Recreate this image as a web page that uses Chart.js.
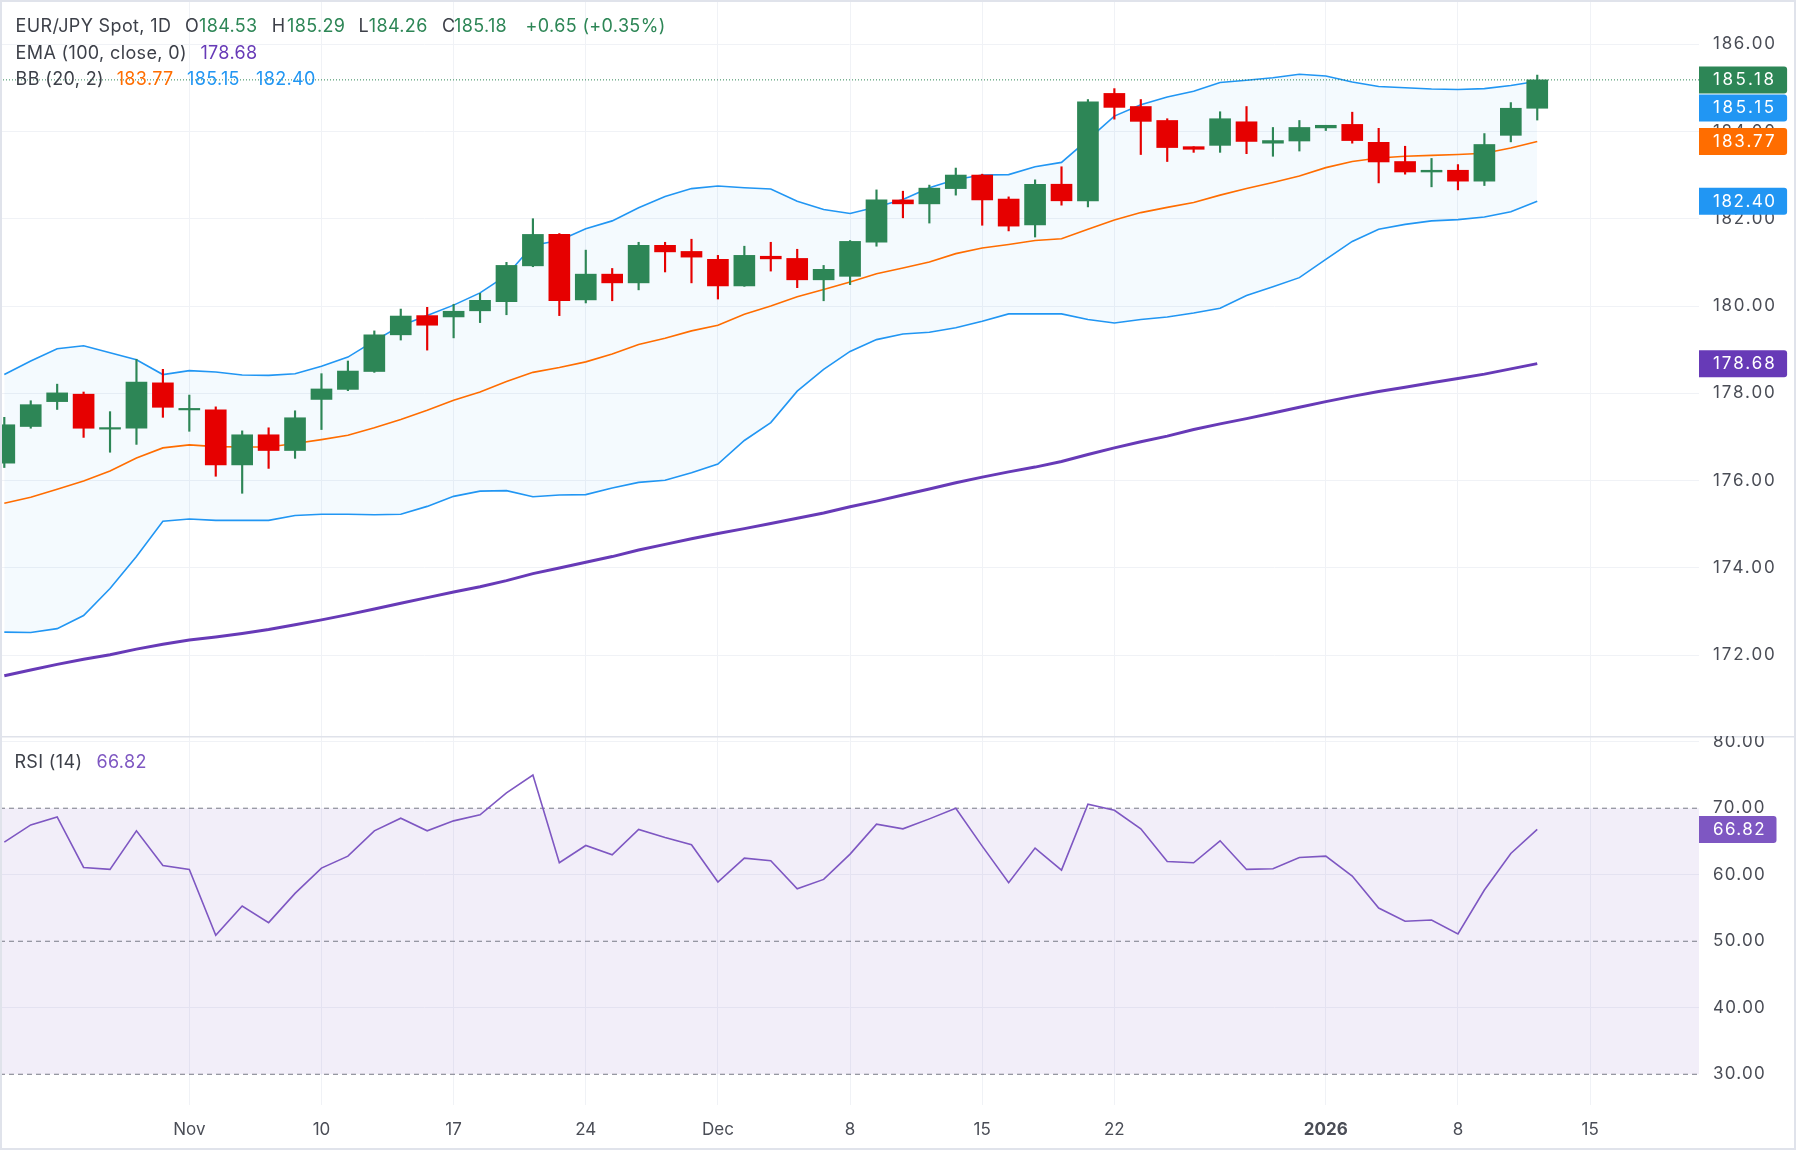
<!DOCTYPE html>
<html>
<head>
<meta charset="utf-8">
<title>EUR/JPY Spot, 1D</title>
<script src="https://cdn.jsdelivr.net/npm/chart.js@4.4.1/dist/chart.umd.min.js"></script>
<style>
	html, body { margin: 0; padding: 0; background: #fff; }
	#wrap { position: relative; width: 1796px; height: 1150px; overflow: hidden; }
	#priceChart { position: absolute; left: 0; top: 0; }
	#rsiChart { position: absolute; left: 0; top: 736px; }
	#frame { position: absolute; left: 0; top: 0; width: 1796px; height: 1150px; box-sizing: border-box; border: 2px solid #e0e3eb; pointer-events: none; }
</style>
</head>
<body>
<div id="wrap">
	<canvas id="priceChart" width="1796" height="736"></canvas>
	<canvas id="rsiChart" width="1796" height="414"></canvas>
	<div id="frame"></div>
</div>
<script>

// daily sessions 23 Oct 2025 -> 13 Jan 2026 (index 0..58)
const opens = [176.40, 177.24, 177.81, 177.98, 177.18, 177.20, 178.24, 177.62, 177.62, 176.36,
	177.05, 176.69, 177.86, 178.09, 178.50, 179.34, 179.78, 179.75, 179.89, 180.10,
	180.92, 181.64, 180.14, 180.73, 180.53, 181.39, 181.25, 181.07, 180.46, 181.14,
	181.09, 180.60, 180.68, 181.46, 182.43, 182.34, 182.69, 183.00, 182.45, 181.86,
	182.79, 182.41, 184.87, 184.57, 184.25, 183.65, 183.68, 184.22, 183.73, 183.78,
	184.08, 184.16, 183.75, 183.31, 183.07, 183.11, 182.86, 183.91, 184.53];
const highs = [177.45, 177.83, 178.21, 178.03, 177.58, 178.78, 178.55, 177.96, 177.69, 177.14,
	177.21, 177.60, 178.45, 178.74, 179.43, 179.93, 179.97, 180.04, 180.29, 181.00,
	182.00, 181.66, 181.28, 180.86, 181.46, 181.46, 181.53, 181.16, 181.37, 181.46,
	181.30, 180.93, 181.50, 182.66, 182.63, 182.77, 183.16, 183.02, 182.50, 182.89,
	183.19, 184.73, 184.98, 184.73, 184.29, 183.65, 184.45, 184.57, 184.09, 184.25,
	184.14, 184.44, 184.07, 183.66, 183.38, 183.24, 183.95, 184.66, 185.29];
const lows = [176.30, 177.20, 177.63, 176.99, 176.65, 176.83, 177.45, 177.13, 176.10, 175.71,
	176.28, 176.51, 177.17, 178.06, 178.48, 179.22, 178.99, 179.27, 179.62, 179.80,
	180.90, 179.78, 180.07, 180.12, 180.37, 180.78, 180.53, 180.16, 180.45, 180.80,
	180.42, 180.12, 180.49, 181.37, 182.02, 181.90, 182.54, 181.85, 181.72, 181.58,
	182.31, 182.27, 184.28, 183.47, 183.31, 183.52, 183.52, 183.49, 183.43, 183.55,
	184.02, 183.73, 182.82, 183.02, 182.73, 182.66, 182.76, 183.76, 184.26];
const closes = [177.28, 177.74, 178.01, 177.20, 177.20, 178.26, 177.68, 177.63, 176.36, 177.05,
	176.69, 177.44, 178.10, 178.51, 179.34, 179.77, 179.56, 179.88, 180.13, 180.93,
	181.64, 180.12, 180.73, 180.53, 181.39, 181.24, 181.12, 180.46, 181.16, 181.08,
	180.60, 180.84, 181.48, 182.43, 182.34, 182.70, 183.00, 182.43, 181.83, 182.79,
	182.41, 184.68, 184.55, 184.23, 183.63, 183.59, 184.29, 183.77, 183.79, 184.09,
	184.14, 183.79, 183.30, 183.07, 183.11, 182.86, 183.70, 184.53, 185.18];

// Bollinger (20, 2)
const bbUpper = [178.43, 178.74, 179.02, 179.09, 178.93, 178.77, 178.43, 178.52, 178.49, 178.42,
	178.41, 178.45, 178.62, 178.83, 179.20, 179.55, 179.78, 180.02, 180.30, 180.70,
	181.39, 181.50, 181.77, 181.95, 182.25, 182.51, 182.69, 182.75, 182.71, 182.68,
	182.40, 182.21, 182.12, 182.27, 182.44, 182.71, 182.90, 183.00, 183.01, 183.19,
	183.29, 183.81, 184.35, 184.61, 184.79, 184.92, 185.12, 185.17, 185.23, 185.31,
	185.27, 185.13, 185.03, 185.00, 184.97, 184.96, 184.98, 185.05, 185.15];
const bbBasis = [175.48, 175.62, 175.80, 175.99, 176.22, 176.52, 176.75, 176.82, 176.78, 176.77,
	176.77, 176.85, 176.94, 177.04, 177.21, 177.40, 177.61, 177.84, 178.03, 178.27,
	178.48, 178.59, 178.72, 178.90, 179.12, 179.26, 179.43, 179.56, 179.81, 180.00,
	180.21, 180.38, 180.55, 180.74, 180.87, 181.01, 181.20, 181.33, 181.41, 181.50,
	181.54, 181.76, 181.97, 182.14, 182.26, 182.37, 182.54, 182.69, 182.83, 182.98,
	183.17, 183.31, 183.39, 183.43, 183.45, 183.47, 183.50, 183.62, 183.77];
const bbLower = [172.53, 172.52, 172.61, 172.91, 173.53, 174.26, 175.07, 175.12, 175.09, 175.09,
	175.09, 175.20, 175.23, 175.23, 175.22, 175.23, 175.41, 175.64, 175.76, 175.77,
	175.63, 175.67, 175.68, 175.83, 175.96, 176.01, 176.18, 176.38, 176.92, 177.33,
	178.05, 178.55, 178.96, 179.23, 179.36, 179.40, 179.50, 179.65, 179.82, 179.82,
	179.82, 179.69, 179.61, 179.69, 179.75, 179.84, 179.95, 180.24, 180.44, 180.65,
	181.07, 181.48, 181.76, 181.87, 181.95, 181.98, 182.04, 182.16, 182.40];

// EMA (100, close)
const ema100 = [171.53, 171.66, 171.79, 171.91, 172.01, 172.14, 172.25, 172.35, 172.42, 172.50,
	172.59, 172.70, 172.81, 172.93, 173.06, 173.19, 173.32, 173.45, 173.57, 173.71,
	173.87, 174.00, 174.13, 174.26, 174.41, 174.54, 174.67, 174.79, 174.90, 175.02,
	175.14, 175.26, 175.40, 175.53, 175.67, 175.81, 175.95, 176.08, 176.20, 176.31,
	176.44, 176.60, 176.75, 176.89, 177.02, 177.17, 177.30, 177.42, 177.55, 177.68,
	177.81, 177.93, 178.04, 178.14, 178.24, 178.34, 178.44, 178.56, 178.68];

// RSI (14)
const rsi14 = [64.9, 67.5, 68.7, 61.1, 60.8, 66.6, 61.4, 60.8, 50.9, 55.3,
	52.8, 57.2, 61.0, 62.8, 66.6, 68.5, 66.6, 68.1, 69.0, 72.3,
	75.0, 61.8, 64.4, 63.0, 66.8, 65.6, 64.5, 58.9, 62.5, 62.1,
	57.9, 59.3, 63.1, 67.6, 66.9, 68.4, 70.0, 64.3, 58.8, 64.0,
	60.7, 70.6, 69.7, 66.9, 62.0, 61.8, 65.1, 60.8, 60.9, 62.6,
	62.8, 59.8, 55.0, 53.0, 53.2, 51.1, 57.7, 63.2, 66.82];

const dateTicks = [7, 12, 17, 22, 27, 32, 37, 42, 50, 55, 60];
const dateLabels = ['Nov', '10', '17', '24', 'Dec', '8', '15', '22', '2026', '8', '15'];
const priceTicks = [172, 174, 176, 178, 180, 182, 184, 186];
const rsiTicks = [30, 40, 50, 60, 70, 80];
const rsiLevels = [70, 50, 30];


const X_MIN = -0.163;
const X_MAX = 64.12;
const AXIS_W = 97;
const FONT = 'Inter, "Noto Sans", sans-serif';
const GREEN = '#2d8656';
const RED = '#e60000';
const BLUE = '#2196f3';
const ORANGE = '#ff6d00';
const PURPLE = '#673ab7';
const RSI_COLOR = '#7e57c2';
const GRID = '#f0f2f6';
const TEXT = '#3d4049';
const AXIS_TEXT = '#4a4d56';
const PITCH = 10.6;
const BOX_H = 27;

const last = closes.length - 1;
const idx = closes.map((_, i) => i);
const candleColor = c => closes[c.dataIndex] >= opens[c.dataIndex] ? GREEN : RED;

// axis numbers are spaced out a little to match the wide TV figures
function axisText(ctx, text, x, y, color) {
	ctx.font = '17px ' + FONT;
	ctx.letterSpacing = '0px';
	const w0 = ctx.measureText(text).width;
	ctx.letterSpacing = ((text.length * PITCH - w0) / text.length) + 'px';
	ctx.fillStyle = color;
	ctx.textAlign = 'left';
	ctx.textBaseline = 'middle';
	ctx.fillText(text, x, y);
	ctx.letterSpacing = '0px';
	return text.length * PITCH;
}

function valueBox(ctx, text, left, y, bg) {
	const w = text.length * PITCH + 24.5;
	ctx.fillStyle = bg;
	ctx.beginPath();
	ctx.roundRect(left, y - BOX_H / 2, w, BOX_H, [0, 3, 3, 0]);
	ctx.fill();
	axisText(ctx, text, left + 14, y + 0.5, '#ffffff');
}

function legendRow(ctx, parts, y) {
	ctx.font = '18px ' + FONT;
	ctx.letterSpacing = '0.35px';
	ctx.textAlign = 'left';
	ctx.textBaseline = 'middle';
	parts.forEach(([t, x, c]) => {
		ctx.fillStyle = c;
		ctx.fillText(t, x, y);
	});
	ctx.letterSpacing = '0px';
}

const priceOverlay = {
	id: 'priceOverlay',
	afterDraw(chart) {
		const { ctx, chartArea, scales: { y } } = chart;
		ctx.save();

		priceTicks.forEach(v => axisText(ctx, v.toFixed(2), chartArea.right + 14, y.getPixelForValue(v), AXIS_TEXT));

		// last-value labels on the price scale, pushed apart when they collide
		const boxes = [
			{ v: closes[last], c: GREEN },
			{ v: bbUpper[last], c: BLUE },
			{ v: bbBasis[last], c: ORANGE },
			{ v: bbLower[last], c: BLUE },
			{ v: ema100[last], c: PURPLE },
		].map(b => ({ ...b, py: y.getPixelForValue(b.v) })).sort((a, b) => a.py - b.py);
		let prev = -Infinity;
		boxes.forEach(b => {
			if (b.py < prev + BOX_H + 1) b.py = prev + BOX_H + 1;
			prev = b.py;
			valueBox(ctx, b.v.toFixed(2), chartArea.right, b.py, b.c);
		});

		const chg = closes[last] - closes[last - 1];
		const pct = chg / closes[last - 1] * 100;
		legendRow(ctx, [
			['EUR/JPY Spot, 1D', 15.6, TEXT],
			['O', 185, TEXT], [opens[last].toFixed(2), 199, GREEN],
			['H', 271.7, TEXT], [highs[last].toFixed(2), 287, GREEN],
			['L', 358.6, TEXT], [lows[last].toFixed(2), 368.8, GREEN],
			['C', 441.9, TEXT], [closes[last].toFixed(2), 454, GREEN],
			['+' + chg.toFixed(2) + ' (+' + pct.toFixed(2) + '%)', 525.6, GREEN],
		], 26.7);
		legendRow(ctx, [
			['EMA (100, close, 0)', 15.6, TEXT],
			[ema100[last].toFixed(2), 200.4, PURPLE],
		], 53.3);
		legendRow(ctx, [
			['BB (20, 2)', 15.6, TEXT],
			[bbBasis[last].toFixed(2), 116.7, ORANGE],
			[bbUpper[last].toFixed(2), 187, BLUE],
			[bbLower[last].toFixed(2), 256, BLUE],
		], 80);

		ctx.restore();
	}
};

const rsiOverlay = {
	id: 'rsiOverlay',
	afterDraw(chart) {
		const { ctx, chartArea, scales: { y } } = chart;
		ctx.save();
		// pane separator
		ctx.fillStyle = '#dfe2ea';
		ctx.fillRect(0, 0, chart.width, 1.5);

		rsiTicks.forEach(v => axisText(ctx, v.toFixed(2), chartArea.right + 14, y.getPixelForValue(v), AXIS_TEXT));
		valueBox(ctx, rsi14[last].toFixed(2), chartArea.right, y.getPixelForValue(rsi14[last]), RSI_COLOR);

		legendRow(ctx, [
			['RSI (14)', 14.4, TEXT],
			[rsi14[last].toFixed(2), 96.4, RSI_COLOR],
		], 26.3);
		ctx.restore();
	}
};

const xScale = (showLabels) => ({
	type: 'linear',
	min: X_MIN,
	max: X_MAX,
	offset: false,
	grid: { color: GRID, drawTicks: false, offset: false },
	border: { display: false },
	afterBuildTicks: s => { s.ticks = dateTicks.map(v => ({ value: v })); },
	afterFit: s => { s.height = showLabels ? 45 : 0; },
	ticks: {
		display: showLabels,
		autoSkip: false,
		maxRotation: 0,
		minRotation: 0,
		padding: 15,
		color: AXIS_TEXT,
		font: c => ({ family: FONT, size: 17, weight: dateLabels[c.index] === '2026' ? 'bold' : 'normal' }),
		callback: v => dateLabels[dateTicks.indexOf(v)],
	},
});

new Chart(document.getElementById('priceChart'), {
	type: 'bar',
	data: {
		datasets: [
			{
				type: 'bar', label: 'Body',
				data: idx.map(i => ({ x: i, y: [opens[i], closes[i]] })),
				backgroundColor: candleColor, barThickness: 21, grouped: false, minBarLength: 1.5, order: 0,
			},
			{
				type: 'bar', label: 'Wick',
				data: idx.map(i => ({ x: i, y: [lows[i], highs[i]] })),
				backgroundColor: candleColor, barThickness: 1.5, grouped: false, order: 1,
			},
			{
				type: 'line', label: 'Last price',
				data: [{ x: X_MIN, y: closes[last] }, { x: X_MAX, y: closes[last] }],
				borderColor: GREEN, borderWidth: 1, borderDash: [1, 2], pointRadius: 0, order: 2,
			},
			{
				type: 'line', label: 'EMA 100',
				data: idx.map(i => ({ x: i, y: ema100[i] })),
				borderColor: PURPLE, borderWidth: 3, pointRadius: 0, order: 3,
			},
			{
				type: 'line', label: 'BB basis',
				data: idx.map(i => ({ x: i, y: bbBasis[i] })),
				borderColor: ORANGE, borderWidth: 1.6, pointRadius: 0, order: 4,
			},
			{
				type: 'line', label: 'BB upper',
				data: idx.map(i => ({ x: i, y: bbUpper[i] })),
				borderColor: BLUE, borderWidth: 1.6, pointRadius: 0, order: 5,
				fill: '+1', backgroundColor: 'rgba(33,150,243,0.05)',
			},
			{
				type: 'line', label: 'BB lower',
				data: idx.map(i => ({ x: i, y: bbLower[i] })),
				borderColor: BLUE, borderWidth: 1.6, pointRadius: 0, order: 6,
			},
		]
	},
	options: {
		responsive: false,
		animation: false,
		devicePixelRatio: 1,
		events: [],
		layout: { padding: 0 },
		plugins: {
			legend: { display: false },
			tooltip: { enabled: false },
			filler: { drawTime: 'beforeDatasetsDraw' },
		},
		scales: {
			x: xScale(false),
			y: {
				type: 'linear',
				position: 'right',
				min: 170.15,
				max: 187.01,
				grid: { color: GRID, drawTicks: false },
				border: { display: false },
				ticks: { display: false },
				afterBuildTicks: s => { s.ticks = priceTicks.map(v => ({ value: v })); },
				afterFit: s => { s.width = AXIS_W; },
			}
		}
	},
	plugins: [priceOverlay]
});

new Chart(document.getElementById('rsiChart'), {
	type: 'line',
	data: {
		datasets: [
			{
				label: 'RSI',
				data: idx.map(i => ({ x: i, y: rsi14[i] })),
				borderColor: RSI_COLOR, borderWidth: 1.6, pointRadius: 0, order: 0,
			},
			...rsiLevels.map((lvl, k) => ({
				label: 'Level ' + lvl,
				data: [{ x: X_MIN, y: lvl }, { x: X_MAX, y: lvl }],
				borderColor: '#787b86', borderWidth: 1, borderDash: [5, 4], pointRadius: 0, order: 1 + k,
				fill: k === 0 ? '+2' : false,
				backgroundColor: 'rgba(126,87,194,0.1)',
			})),
		]
	},
	options: {
		responsive: false,
		animation: false,
		devicePixelRatio: 1,
		events: [],
		layout: { padding: { top: 1 } },
		plugins: {
			legend: { display: false },
			tooltip: { enabled: false },
			filler: { drawTime: 'beforeDatasetsDraw' },
		},
		scales: {
			x: xScale(true),
			y: {
				type: 'linear',
				position: 'right',
				min: 25.38,
				max: 80.71,
				grid: { color: c => rsiLevels.includes(c.tick.value) ? 'rgba(0,0,0,0)' : GRID, drawTicks: false },
				border: { display: false },
				ticks: { display: false },
				afterBuildTicks: s => { s.ticks = rsiTicks.map(v => ({ value: v })); },
				afterFit: s => { s.width = AXIS_W; },
			}
		}
	},
	plugins: [rsiOverlay]
});

</script>
</body>
</html>
